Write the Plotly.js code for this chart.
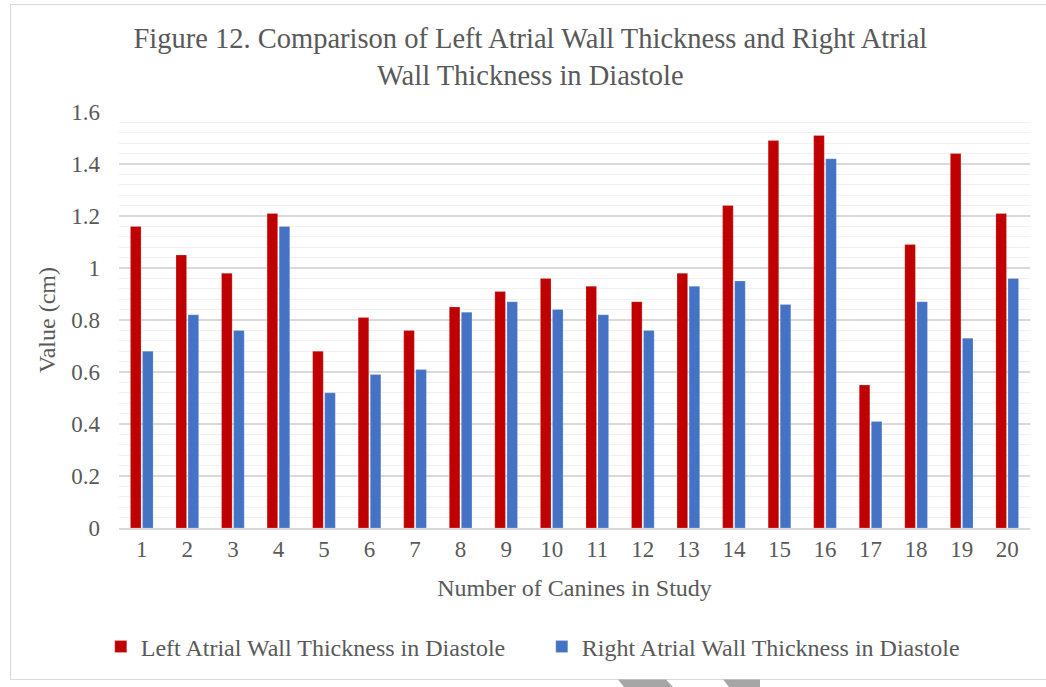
<!DOCTYPE html>
<html>
<head>
<meta charset="utf-8">
<script src="https://cdn.plot.ly/plotly-3.0.1.min.js"></script>
<style>
  html, body { margin: 0; padding: 0; background: #ffffff; }
  #frame {
    position: absolute; left: 10px; top: 4px; width: 1040px; height: 674px;
    border-left: 1.5px solid #d9d9d9; border-top: 1.5px solid #d9d9d9; border-bottom: 1.5px solid #d9d9d9;
  }
  #chart { position: absolute; left: 0; top: 0; width: 1046px; height: 687px; }
</style>
</head>
<body>
<div id="frame"></div>
<div id="chart"></div>
<script>
// Canine number along the x axis
const canines = ['1','2','3','4','5','6','7','8','9','10','11','12','13','14','15','16','17','18','19','20'];

// Atrial wall thickness in diastole (cm)
const leftAtrial  = [1.16, 1.05, 0.98, 1.21, 0.68, 0.81, 0.76, 0.85, 0.91, 0.96, 0.93, 0.87, 0.98, 1.24, 1.49, 1.51, 0.55, 1.09, 1.44, 1.21];
const rightAtrial = [0.68, 0.82, 0.76, 1.16, 0.52, 0.59, 0.61, 0.83, 0.87, 0.84, 0.82, 0.76, 0.93, 0.95, 0.86, 1.42, 0.41, 0.87, 0.73, 0.96];

const seriesNames = ['Left Atrial Wall Thickness in Diastole', 'Right Atrial Wall Thickness in Diastole'];
const seriesColors = ['#c00000', '#4472c4'];

const serif = '"Liberation Serif", "Times New Roman", serif';
const grey = '#595959';

const traces = [leftAtrial, rightAtrial].map((vals, i) => ({
  type: 'bar',
  name: seriesNames[i],
  x: canines,
  y: vals,
  marker: { color: seriesColors[i], line: { color: 'rgba(255,255,255,0.35)', width: 0.6 } },
  hoverinfo: 'x+y'
}));

const layout = {
  width: 1046,
  height: 687,
  margin: { l: 119, r: 16, t: 112, b: 159 },
  paper_bgcolor: 'rgba(0,0,0,0)',
  plot_bgcolor: 'rgba(0,0,0,0)',
  font: { family: serif, color: grey, size: 24 },
  title: {
    text: 'Figure 12. Comparison of Left Atrial Wall Thickness and Right Atrial<br>Wall Thickness in Diastole',
    font: { family: serif, size: 28.5, color: grey },
    x: 0.507, xanchor: 'center', xref: 'container',
    y: 0.93, yanchor: 'top', yref: 'container'
  },
  barmode: 'group',
  bargap: 0.47,
  bargroupgap: 0.12,
  xaxis: {
    type: 'category',
    showgrid: false,
    showline: true,
    linecolor: '#d9d9d9',
    linewidth: 1.5,
    ticks: '',
    tickfont: { family: serif, size: 23, color: grey },
    title: { text: 'Number of Canines in Study', font: { family: serif, size: 24, color: grey }, standoff: 18 }
  },
  yaxis: {
    range: [0, 1.6],
    dtick: 0.2,
    tick0: 0,
    showgrid: true,
    gridcolor: '#d9d9d9',
    gridwidth: 1.2,
    zeroline: false,
    showline: false,
    ticks: '',
    ticklabelstandoff: 18,
    tickfont: { family: serif, size: 23, color: grey },
    minor: { dtick: 0.04, showgrid: true, gridcolor: '#f0f0f0', gridwidth: 1, ticks: '' },
    title: { text: 'Value (cm)', font: { family: serif, size: 24, color: grey }, standoff: 8 }
  },
  legend: {
    orientation: 'h',
    x: -0.02, xanchor: 'left',
    y: -0.232, yanchor: 'top',
    font: { family: serif, size: 24, color: grey },
    entrywidth: 396,
    entrywidthmode: 'pixels',
    itemwidth: 30,
    traceorder: 'normal'
  },
  showlegend: true
};

// Two grey page tabs peeking under the frame's bottom edge (pixel positions converted to paper units)
const plotW = 1046 - layout.margin.l - layout.margin.r;
const plotH = 687 - layout.margin.t - layout.margin.b;
const px = v => (v - layout.margin.l) / plotW;
const py = v => (687 - layout.margin.b - v) / plotH;
layout.shapes = [
  { type: 'path', xref: 'paper', yref: 'paper', layer: 'above', line: { width: 0 }, fillcolor: '#a6a6a6',
    path: `M${px(618)},${py(679.5)} L${px(666)},${py(679.5)} L${px(673)},${py(687)} L${px(624)},${py(687)} Z` },
  { type: 'path', xref: 'paper', yref: 'paper', layer: 'above', line: { width: 0 }, fillcolor: '#a6a6a6',
    path: `M${px(723)},${py(679.5)} L${px(760)},${py(679.5)} L${px(760)},${py(687)} L${px(729)},${py(687)} Z` }
];

Plotly.newPlot('chart', traces, layout, { displayModeBar: false, staticPlot: true });
</script>
</body>
</html>
